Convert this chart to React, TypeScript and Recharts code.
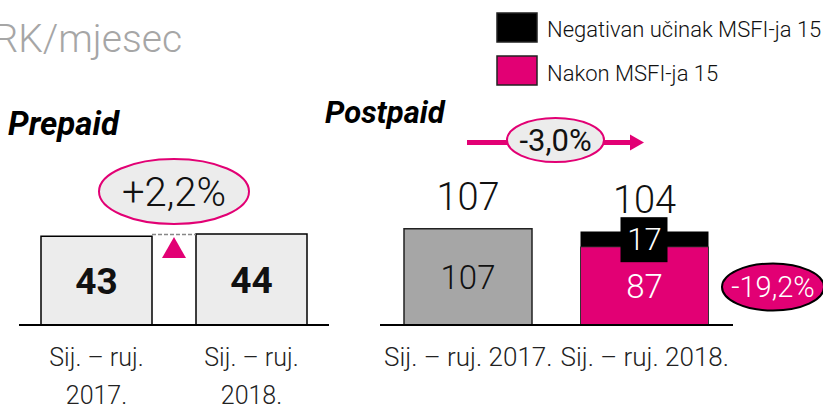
import { BarChart, Bar, XAxis, YAxis, LabelList } from "recharts";

const CATEGORIES = ["Sij. – ruj. 2017.", "Sij. – ruj. 2018."];
const PREPAID = [43, 44];
const POSTPAID_BEFORE = [107, null];
const POSTPAID_AFTER = [null, 87];
const POSTPAID_NEGATIVE = [null, 17];
const POSTPAID_TOTAL = [107, 104];
const PREPAID_CHANGE = "+2,2%";
const POSTPAID_CHANGE = "-3,0%";
const AFTER_CHANGE = "-19,2%";
const LEGEND = ["Negativan učinak MSFI-ja 15", "Nakon MSFI-ja 15"];

const MAGENTA = "#e20074";
const FONT = "Roboto, 'Liberation Sans', sans-serif";
const LIGHT = 300;

// shared layout: plot area from y=201 down to the baseline at y=325
const H = 409;
const TOP = 201;
const AXIS_H = 84;
const BASE = H - AXIS_H;

const PRE_LEFT = 19;
const PRE_W = 350;
const PRE_PLOT_W = 310;
const PRE_MAX = 60;

const POST_X = 360;
const POST_W = 400;
const POST_LEFT = 20;
const POST_PLOT_W = 353;
const POST_MAX = 138;

const prepaidData = CATEGORIES.map((name, i) => ({ name, value: PREPAID[i] }));
const postpaidData = CATEGORIES.map((name, i) => ({
  name,
  before: POSTPAID_BEFORE[i],
  after: POSTPAID_AFTER[i],
  negative: POSTPAID_NEGATIVE[i],
  total: POSTPAID_TOTAL[i],
}));

function PrepaidTick({ x, y, payload }: any) {
  const s = String(payload.value);
  const cut = s.lastIndexOf(" ");
  return (
    <text x={x} textAnchor="middle" fontFamily={FONT} fontWeight={LIGHT} fontSize={25} fill="#222">
      <tspan x={x} y={y + 39}>{s.slice(0, cut)}</tspan>
      <tspan x={x} y={y + 77}>{s.slice(cut + 1)}</tspan>
    </text>
  );
}

function PostpaidTick({ x, y, payload }: any) {
  return (
    <text x={x} y={y + 39} textAnchor="middle" fontFamily={FONT} fontWeight={LIGHT} fontSize={26} fill="#222">
      {payload.value}
    </text>
  );
}

function TotalLabel(props: any) {
  const vb = props.viewBox || {};
  if (props.value == null || !(vb.height > 0)) return null;
  return (
    <text x={vb.x + vb.width / 2} y={vb.y - 19} textAnchor="middle" fontFamily={FONT} fontWeight={LIGHT} fontSize={38} fill="#111">
      {props.value}
    </text>
  );
}

function NegativeLabel(props: any) {
  const vb = props.viewBox || {};
  if (props.value == null || !(vb.height > 0)) return null;
  const cx = vb.x + vb.width / 2;
  const cy = vb.y + vb.height / 2;
  return (
    <g>
      <rect x={cx - 24} y={cy - 22} width={47} height={45} fill="#000" />
      <text x={cx} y={cy + 11} textAnchor="middle" fontFamily={FONT} fontWeight={LIGHT} fontSize={31} fill="#fff">
        {props.value}
      </text>
    </g>
  );
}

export default function App() {
  const preK = (BASE - TOP) / PRE_MAX;
  const preMid = PRE_LEFT + PRE_PLOT_W / 2;
  const preTop = BASE - Math.max(...PREPAID) * preK;
  const postMid = POST_X + POST_LEFT + POST_PLOT_W / 2;

  return (
    <div style={{ position: "absolute", left: 0, top: 0, width: 823, height: H, background: "#fff", overflow: "hidden" }}>
      <div style={{ position: "absolute", left: 0, top: 0 }}>
        <BarChart width={PRE_W} height={H} data={prepaidData}
          margin={{ top: TOP, right: PRE_W - PRE_LEFT - PRE_PLOT_W, left: PRE_LEFT, bottom: 0 }}>
          <XAxis dataKey="name" height={AXIS_H} tickLine={false} tickSize={0} interval={0}
            axisLine={{ stroke: "#000", strokeWidth: 2 }} tick={<PrepaidTick />} />
          <YAxis hide domain={[0, PRE_MAX]} />
          <Bar dataKey="value" barSize={111} fill="#ececec" stroke="#000" strokeWidth={1.5} isAnimationActive={false}>
            <LabelList dataKey="value" position="center" fontFamily={FONT} fontSize={37} fontWeight="bold" fill="#111" />
          </Bar>
        </BarChart>
      </div>

      <div style={{ position: "absolute", left: POST_X, top: 0 }}>
        <BarChart width={POST_W} height={H} data={postpaidData}
          margin={{ top: TOP, right: POST_W - POST_LEFT - POST_PLOT_W, left: POST_LEFT, bottom: 0 }}>
          <XAxis dataKey="name" height={AXIS_H} tickLine={false} tickSize={0} interval={0}
            axisLine={{ stroke: "#000", strokeWidth: 2 }} tick={<PostpaidTick />} />
          <YAxis hide domain={[0, POST_MAX]} />
          <Bar dataKey="before" stackId="s" barSize={128} fill="#a6a6a6" stroke="#222" strokeWidth={1.5} isAnimationActive={false}>
            <LabelList dataKey="before" position="center" fontFamily={FONT} fontWeight={LIGHT} fontSize={33} fill="#111" />
            <LabelList dataKey="total" content={TotalLabel} />
          </Bar>
          <Bar dataKey="after" stackId="s" barSize={128} fill={MAGENTA} stroke="#333" strokeWidth={1} isAnimationActive={false}>
            <LabelList dataKey="after" position="center" fontFamily={FONT} fontWeight={LIGHT} fontSize={33} fill="#fff" />
          </Bar>
          <Bar dataKey="negative" stackId="s" barSize={128} fill="#000" isAnimationActive={false}>
            <LabelList dataKey="negative" content={NegativeLabel} />
            <LabelList dataKey="total" content={TotalLabel} />
          </Bar>
        </BarChart>
      </div>

      <svg width={823} height={H} style={{ position: "absolute", left: 0, top: 0, pointerEvents: "none" }} fontFamily={FONT}>
        <text x={182} y={52} textAnchor="end" fontSize={39} fontWeight={LIGHT} fill="#a6a6a6">HRK/mjesec</text>
        <text x={8} y={135} fontSize={33} fontWeight="bold" fontStyle="italic" fill="#000">Prepaid</text>
        <text x={325} y={123} fontSize={31} fontWeight="bold" fontStyle="italic" fill="#000">Postpaid</text>

        {/* legend */}
        <rect x={497} y={13} width={40} height={29} fill="#000" stroke="#222" strokeWidth={1.5} />
        <text x={547} y={37} fontSize={22} fontWeight={LIGHT} fill="#111">{LEGEND[0]}</text>
        <rect x={497} y={56} width={40} height={29} fill={MAGENTA} stroke="#222" strokeWidth={1.5} />
        <text x={547} y={81} fontSize={22} fontWeight={LIGHT} fill="#111">{LEGEND[1]}</text>

        {/* prepaid change */}
        <line x1={152} x2={196} y1={preTop + 0.5} y2={preTop + 0.5} stroke="#888" strokeWidth={1.5} strokeDasharray="4 2" />
        <polygon points={`${preMid},${preTop + 3} ${preMid - 12},${preTop + 24} ${preMid + 12},${preTop + 24}`} fill={MAGENTA} />
        <ellipse cx={preMid} cy={191.5} rx={75} ry={32.5} fill="#ececec" stroke={MAGENTA} strokeWidth={2} />
        <text x={preMid} y={206} textAnchor="middle" fontSize={40} fontWeight={LIGHT} fill="#111">{PREPAID_CHANGE}</text>

        {/* postpaid change arrow */}
        <line x1={467} x2={632} y1={142.5} y2={142.5} stroke={MAGENTA} strokeWidth={5} />
        <polygon points="630,134.5 644,142.5 630,150.5" fill={MAGENTA} />
        <ellipse cx={postMid - 1} cy={140} rx={48.5} ry={22} fill="#ececec" stroke={MAGENTA} strokeWidth={2} />
        <text x={postMid - 1} y={151} textAnchor="middle" fontSize={31} fill="#111">{POSTPAID_CHANGE}</text>

        {/* after-IFRS change */}
        <ellipse cx={773} cy={287} rx={51} ry={23.5} fill={MAGENTA} stroke="#000" strokeWidth={2} />
        <text x={773} y={297} textAnchor="middle" fontSize={29} fontWeight={LIGHT} fill="#fff">{AFTER_CHANGE}</text>
      </svg>
    </div>
  );
}
